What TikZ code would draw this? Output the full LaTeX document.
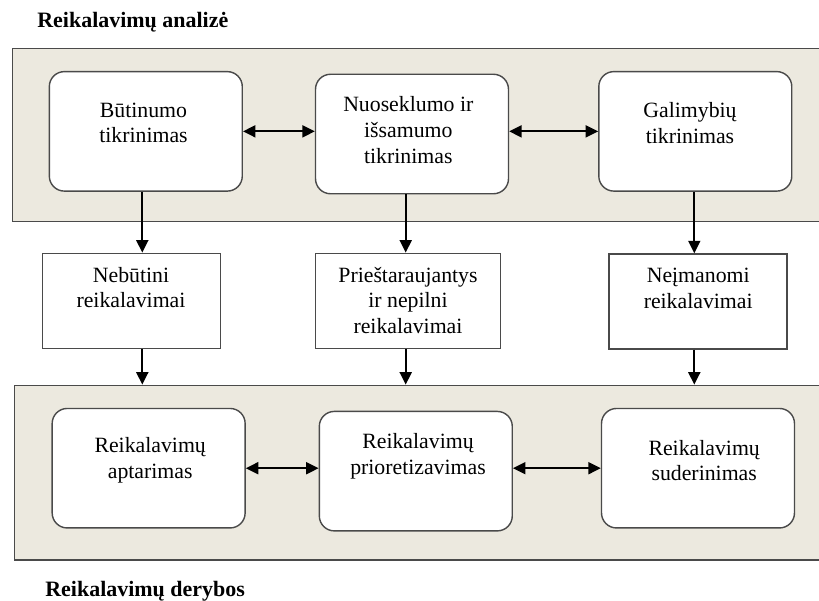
\documentclass[tikz,border=0pt]{standalone}
\usepackage{fontspec}
\setmainfont{Liberation Serif}
\usetikzlibrary{arrows.meta}
\definecolor{bandfill}{HTML}{ECE9DF}
\definecolor{edge}{HTML}{4A4A4A}

\begin{document}
\begin{tikzpicture}[x=0.02cm,y=-0.02cm,
  band/.style={draw=edge, line width=0.8pt, fill=bandfill, inner sep=0},
  rbox/.style={draw=edge, line width=0.8pt, fill=white, rounded corners=0.3cm,
               inner sep=0, minimum width=3.86cm, minimum height=2.39cm},
  sbox/.style={draw=edge, line width=0.8pt, fill=white, inner sep=0},
  lbl/.style={anchor=north, align=center, inner sep=0,
              font=\fontsize{12.4}{14.6}\selectfont},
  ttl/.style={anchor=base west, inner sep=0,
              font=\fontsize{12.5}{15}\selectfont\bfseries},
  tip/.tip={Triangle[length=2.5mm,width=2.4mm]},
  arr/.style={-tip, line width=1.1pt},
  darr/.style={tip-tip, line width=1.1pt}]

  \path[use as bounding box, clip] (0,0) rectangle (819,600);

  % headings
  \node[ttl] (tanal) at (37,27) {Reikalavimų analizė};
  \node[ttl] (tder)  at (45,596) {Reikalavimų derybos};

  % shaded groups
  \node[band, minimum width=16.346cm, minimum height=3.468cm] (band1) at (421.35,135) {};
  \node[band, minimum width=16.314cm, minimum height=3.494cm] (band2) at (422.15,472.65) {};

  % analysis steps
  \node[rbox] (b1) at (145.8,131.35) {};
  \node[rbox] (b2) at (412,134) {};
  \node[rbox] (b3) at (695.3,131.35) {};
  \node[lbl] (tb1) at (143.5,99)  {\strut Būtinumo\\tikrinimas};
  \node[lbl] (tb2) at (408.3,93.5) {\strut Nuoseklumo ir\\išsamumo\\tikrinimas};
  \node[lbl] (tb3) at (690,99.5)  {\strut Galimybių\\tikrinimas};

  % intermediate results
  \node[sbox, minimum width=3.56cm, minimum height=1.9cm] (m1) at (131.3,300.8) {};
  \node[sbox, minimum width=3.69cm, minimum height=1.9cm] (m2) at (408,300.8) {};
  \node[sbox, minimum width=3.56cm, minimum height=1.9cm] (m3) at (698,301.5) {};
  \node[lbl] (tm1) at (131,263.7)   {\strut Nebūtini\\reikalavimai};
  \node[lbl] (tm2) at (408,263.7)   {\strut Prieštaraujantys\\ir nepilni\\reikalavimai};
  \node[lbl] (tm3) at (698.2,264.3) {\strut Neįmanomi\\reikalavimai};

  % negotiation steps
  \node[rbox] (n1) at (148.65,468.2) {};
  \node[rbox] (n2) at (415.8,471.15) {};
  \node[rbox] (n3) at (698,468.2) {};
  \node[lbl] (tn1) at (150.2,434.5) {\strut Reikalavimų\\aptarimas};
  \node[lbl] (tn2) at (418,430.3)   {\strut Reikalavimų\\prioretizavimas};
  \node[lbl] (tn3) at (704.2,437)   {\strut Reikalavimų\\suderinimas};

  % columns of the vertical flow
  \coordinate (c1) at (142.3,0);
  \coordinate (c2) at (405.7,0);
  \coordinate (c3) at (694.3,0);

  % links between steps
  \draw[darr] (b1.east) -- (b1.east -| b2.west);
  \draw[darr] (b3.west -| b2.east) -- (b3.west);
  \draw[darr] (n1.east) -- (n1.east -| n2.west);
  \draw[darr] (n3.west -| n2.east) -- (n3.west);

  % flow downwards
  \draw[arr] (b1.south -| c1) -- (m1.north -| c1);
  \draw[arr] (b2.south -| c2) -- (m2.north -| c2);
  \draw[arr] (b3.south -| c3) -- (m3.north -| c3);
  \draw[arr] (m1.south -| c1) -- (band2.north -| c1);
  \draw[arr] (m2.south -| c2) -- (band2.north -| c2);
  \draw[arr] (m3.south -| c3) -- (band2.north -| c3);
\end{tikzpicture}
\end{document}
